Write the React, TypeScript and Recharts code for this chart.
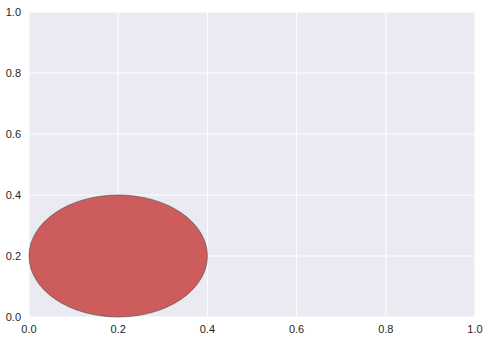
import { ScatterChart, XAxis, YAxis, CartesianGrid, ReferenceArea } from "recharts";

// ellipse patch: centre and full width/height in data units
const ellipseCenter = [0.2, 0.2];
const ellipseWidth = 0.4;
const ellipseHeight = 0.4;

const xTicks = [0, 0.2, 0.4, 0.6, 0.8, 1.0];
const yTicks = [0, 0.2, 0.4, 0.6, 0.8, 1.0];

const tickStyle = { fontFamily: "'Liberation Sans', Arial, sans-serif", fontSize: 11, fill: "#262626" };

const EllipseShape = (props: any) => {
  const { x, y, width, height } = props;
  return (
    <ellipse
      cx={x + width / 2}
      cy={y + height / 2}
      rx={Math.abs(width) / 2}
      ry={Math.abs(height) / 2}
      fill="#CD5C5C"
      stroke="#4a4a4a"
      strokeWidth={0.6}
    />
  );
};

export default function App() {
  return (
    <div style={{ position: "absolute", left: 0, top: 0, background: "#fff" }}>
      <ScatterChart width={488} height={341} margin={{ top: 12, right: 13, left: 0, bottom: 0 }}>
        <CartesianGrid stroke="#ffffff" strokeWidth={1} fill="#EAEAF2" fillOpacity={1} />
        <XAxis
          type="number"
          dataKey="x"
          domain={[0, 1]}
          ticks={xTicks}
          tickFormatter={(v: number) => v.toFixed(1)}
          tick={tickStyle}
          axisLine={false}
          tickLine={false}
          height={24}
          allowDataOverflow
        />
        <YAxis
          type="number"
          dataKey="y"
          domain={[0, 1]}
          ticks={yTicks}
          tickFormatter={(v: number) => v.toFixed(1)}
          tick={tickStyle}
          axisLine={false}
          tickLine={false}
          width={29}
          allowDataOverflow
        />
        <ReferenceArea
          x1={ellipseCenter[0] - ellipseWidth / 2}
          x2={ellipseCenter[0] + ellipseWidth / 2}
          y1={ellipseCenter[1] - ellipseHeight / 2}
          y2={ellipseCenter[1] + ellipseHeight / 2}
          ifOverflow="visible"
          shape={EllipseShape}
        />
      </ScatterChart>
    </div>
  );
}
